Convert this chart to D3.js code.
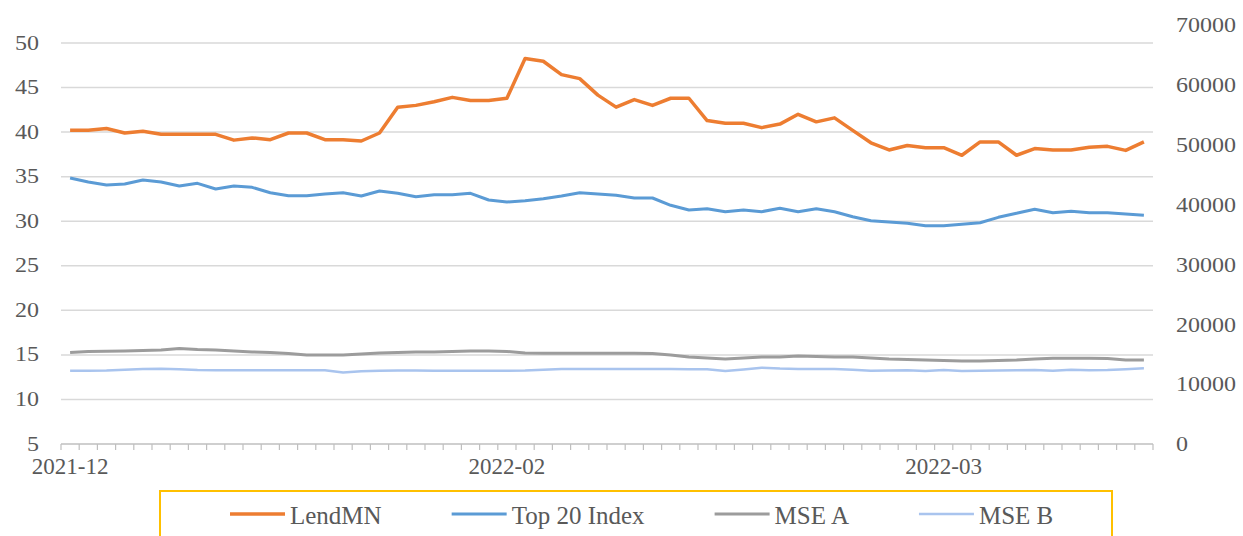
<!DOCTYPE html>
<html>
<head>
<meta charset="utf-8">
<script src="https://cdn.jsdelivr.net/npm/d3@7"></script>
<style>
  body { margin: 0; background: #fff; }
  text { font-family: "Liberation Serif", "Times New Roman", serif; fill: #595959; }
</style>
</head>
<body>
<div id="chart"></div>
<script>
// LendMN price (left axis)
const lendmn = [40.2, 40.2, 40.4, 39.9, 40.1, 39.75, 39.75, 39.75, 39.75, 39.1,
  39.35, 39.15, 39.9, 39.9, 39.15, 39.15, 39.0, 39.9, 42.8, 43.0,
  43.4, 43.9, 43.55, 43.55, 43.8, 48.25, 47.95, 46.45, 46.0, 44.15,
  42.8, 43.65, 43.0, 43.8, 43.8, 41.3, 41.0, 41.0, 40.5, 40.9,
  42.0, 41.15, 41.6, 40.2, 38.8, 38.0, 38.5, 38.25, 38.25, 37.4,
  38.9, 38.9, 37.4, 38.15, 38.0, 38.0, 38.3, 38.4, 37.95, 38.9];

// indices (right axis)
const top20 = [44440, 43770, 43270, 43440, 44100, 43770, 43100, 43550, 42600, 43100,
  42880, 41980, 41480, 41480, 41770, 41980, 41430, 42270, 41880, 41310,
  41650, 41650, 41880, 40760, 40430, 40650, 40980, 41430, 41980, 41770,
  41550, 41100, 41100, 39880, 39090, 39310, 38810, 39090, 38810, 39380,
  38810, 39310, 38810, 37970, 37300, 37090, 36870, 36470, 36470, 36700,
  36970, 37870, 38540, 39210, 38640, 38870, 38640, 38640, 38420, 38210];

const mseA = [15290, 15450, 15490, 15540, 15620, 15700, 15950, 15790, 15700, 15540,
  15370, 15290, 15120, 14870, 14870, 14870, 15040, 15200, 15290, 15370,
  15370, 15450, 15540, 15540, 15450, 15200, 15150, 15150, 15150, 15150,
  15150, 15150, 15120, 14870, 14530, 14370, 14200, 14370, 14530, 14530,
  14700, 14620, 14530, 14530, 14370, 14200, 14120, 14030, 13950, 13870,
  13870, 13950, 14030, 14200, 14320, 14320, 14320, 14280, 14030, 14030];

const mseB = [12250, 12250, 12260, 12400, 12530, 12580, 12500, 12350, 12310, 12310,
  12310, 12310, 12310, 12310, 12310, 11950, 12150, 12250, 12300, 12280,
  12250, 12250, 12250, 12250, 12250, 12280, 12400, 12530, 12530, 12530,
  12530, 12530, 12530, 12530, 12500, 12480, 12200, 12450, 12750, 12600,
  12550, 12550, 12530, 12400, 12250, 12300, 12330, 12200, 12360, 12200,
  12250, 12300, 12330, 12380, 12250, 12410, 12320, 12360, 12500, 12650];

// category labels shown on the x axis: [index, label]
const xTickLabels = [[0, '2021-12'], [24, '2022-02'], [48, '2022-03']];
const leftTicks = [5, 10, 15, 20, 25, 30, 35, 40, 45, 50];
const rightTicks = [0, 10000, 20000, 30000, 40000, 50000, 60000, 70000];

const series = [
  {name: 'LendMN', values: lendmn, axis: 'left', color: '#ED7D31', width: 3.5},
  {name: 'Top 20 Index', values: top20, axis: 'right', color: '#5B9BD5', width: 3},
  {name: 'MSE A', values: mseA, axis: 'right', color: '#9C9C9C', width: 3},
  {name: 'MSE B', values: mseB, axis: 'right', color: '#A9C4EE', width: 2.5}
];

const width = 1243;
const height = 536;
const plotLeft = 61;
const plotRight = 1153;
const plotBottom = 444;

const svg = d3.select('#chart')
  .append('svg')
  .attr('width', width)
  .attr('height', height);

svg.append('rect').attr('width', width).attr('height', height).attr('fill', '#fff');

const x = d3.scaleBand()
  .domain(lendmn.map((d, i) => i))
  .range([plotLeft, plotRight]);

const yLeft = d3.scaleLinear().domain([5, 50]).range([plotBottom, 43]);
const yRight = d3.scaleLinear().domain([0, 70000]).range([plotBottom, 25]);

// gridlines
svg.append('g')
  .selectAll('line')
  .data(leftTicks.filter(d => d > 5))
  .enter()
  .append('line')
  .attr('x1', plotLeft)
  .attr('x2', plotRight)
  .attr('y1', d => yLeft(d))
  .attr('y2', d => yLeft(d))
  .attr('stroke', '#D9D9D9')
  .attr('stroke-width', 1.5);

// left axis (labels are a bit stretched in the original)
const axisLeft = d3.axisLeft(yLeft).tickValues(leftTicks).tickSize(0).tickPadding(0);
const gLeft = svg.append('g')
  .attr('transform', `translate(${plotLeft},0)`)
  .call(axisLeft);
gLeft.select('.domain').remove();
gLeft.selectAll('text')
  .attr('x', -22 / 1.2)
  .attr('dy', '0.3em')
  .attr('transform', 'scale(1.2,1)')
  .style('font-size', '20px')
  .style('font-family', '"Liberation Serif", serif')
  .attr('fill', '#595959');

// right axis
const axisRight = d3.axisRight(yRight).tickValues(rightTicks).tickSize(0).tickPadding(0)
  .tickFormat(d3.format('d'));
const gRight = svg.append('g')
  .attr('transform', `translate(${plotRight},0)`)
  .call(axisRight);
gRight.select('.domain').remove();
gRight.selectAll('text')
  .attr('x', 23 / 1.2)
  .attr('dy', '0.34em')
  .attr('transform', 'scale(1.2,1)')
  .style('font-size', '20px')
  .style('font-family', '"Liberation Serif", serif')
  .attr('fill', '#595959');

// x axis line + tick marks on category boundaries
svg.append('line')
  .attr('x1', plotLeft).attr('x2', plotRight)
  .attr('y1', plotBottom).attr('y2', plotBottom)
  .attr('stroke', '#BFBFBF')
  .attr('stroke-width', 1.5);

const boundaries = x.domain().map(d => x(d)).concat([plotRight]);
svg.append('g')
  .selectAll('line')
  .data(boundaries)
  .enter()
  .append('line')
  .attr('x1', d => d).attr('x2', d => d)
  .attr('y1', plotBottom).attr('y2', plotBottom + 6)
  .attr('stroke', '#BFBFBF')
  .attr('stroke-width', 1.2);

svg.append('g')
  .selectAll('text')
  .data(xTickLabels)
  .enter()
  .append('text')
  .attr('x', d => x(d[0]) + x.bandwidth() / 2)
  .attr('y', 474)
  .attr('text-anchor', 'middle')
  .style('font-size', '23px')
  .text(d => d[1]);

// lines
series.forEach(s => {
  const yScale = s.axis === 'left' ? yLeft : yRight;
  const line = d3.line()
    .x((d, i) => x(i) + x.bandwidth() / 2)
    .y(d => yScale(d));
  svg.append('path')
    .attr('fill', 'none')
    .attr('stroke', s.color)
    .attr('stroke-width', s.width)
    .attr('stroke-linejoin', 'round')
    .attr('d', line(s.values));
});

// legend
svg.append('rect')
  .attr('x', 160)
  .attr('y', 491)
  .attr('width', 952)
  .attr('height', 60)
  .attr('fill', 'none')
  .attr('stroke', '#FFC000')
  .attr('stroke-width', 2);

let legendX = 230;
series.forEach(s => {
  const item = svg.append('g').attr('transform', `translate(${legendX},514)`);
  item.append('line')
    .attr('x1', 0).attr('x2', 55)
    .attr('stroke', s.color)
    .attr('stroke-width', s.width);
  const t = item.append('text')
    .attr('x', 60)
    .attr('y', 10)
    .style('font-size', '25px')
    .text(s.name);
  legendX += 60 + t.node().getComputedTextLength() + 70;
});
</script>
</body>
</html>
